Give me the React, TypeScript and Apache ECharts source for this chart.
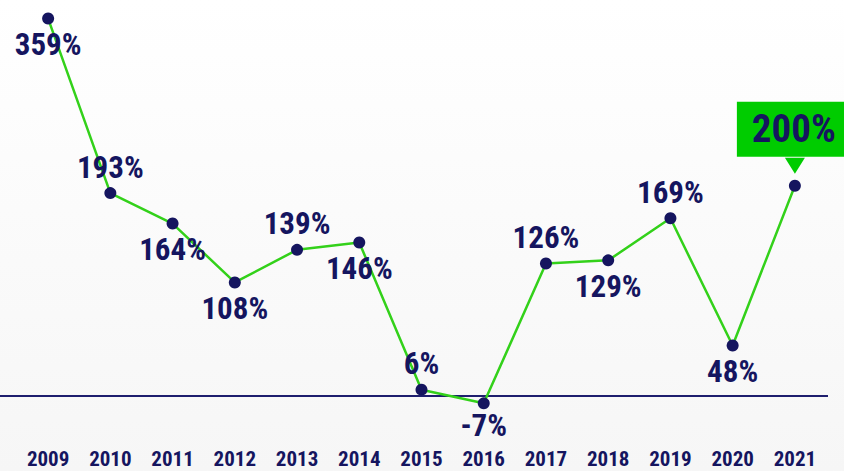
import React, { useEffect, useRef } from "react";
import * as echarts from "echarts";

const years = ["2009", "2010", "2011", "2012", "2013", "2014", "2015", "2016", "2017", "2018", "2019", "2020", "2021"];
const growth = [359, 193, 164, 108, 139, 146, 6, -7, 126, 129, 169, 48, 200];
const labelSide = ["bottom", "top", "bottom", "bottom", "top", "bottom", "top", "bottom", "top", "bottom", "top", "bottom", "top"];

const NAVY = "#15155f";
const GREEN = "#33d11a";
const BOX = "#00cc00";
const FONT = "'Liberation Sans Narrow', 'Roboto Condensed', Roboto, sans-serif";

export default function App() {
  const ref = useRef<HTMLDivElement>(null);
  useEffect(() => {
    if (!ref.current) return;
    const chart = echarts.init(ref.current, undefined, { renderer: "svg" });
    const last = growth.length - 1;
    const data = growth.map((v, i) => {
      if (i === last) {
        return {
          value: v,
          label: {
            show: true,
            position: "top",
            distance: 23,
            offset: [-1, 0],
            backgroundColor: BOX,
            padding: [8, 15, 8, 15],
            fontSize: 39,
            lineHeight: 39,
            color: NAVY,
            fontWeight: "bold",
            fontFamily: FONT,
          },
        };
      }
      return {
        value: v,
        label: { position: labelSide[i], distance: v < 0 ? 2 : 6 },
      };
    });
    chart.setOption({
      animation: false,
      backgroundColor: {
        type: "linear",
        x: 0,
        y: 0,
        x2: 0,
        y2: 1,
        colorStops: [
          { offset: 0, color: "#ffffff" },
          { offset: 1, color: "#f6f6f6" },
        ],
      },
      grid: { left: 17, right: 18, top: 7, bottom: 54, containLabel: false },
      xAxis: {
        type: "category",
        data: years,
        boundaryGap: true,
        axisLine: { show: false },
        axisTick: { show: false },
        axisLabel: {
          interval: 0,
          margin: 31,
          color: NAVY,
          fontSize: 21,
          lineHeight: 21,
          fontWeight: "bold",
          fontFamily: FONT,
        },
      },
      yAxis: {
        type: "value",
        min: -20,
        max: 370,
        show: false,
        splitLine: { show: false },
      },
      series: [
        {
          type: "line",
          data,
          z: 3,
          symbol: "circle",
          symbolSize: 12,
          itemStyle: { color: NAVY },
          lineStyle: { color: GREEN, width: 2.5 },
          label: {
            show: true,
            distance: 6,
            formatter: (p: any) => `${p.value}%`,
            color: NAVY,
            fontSize: 31,
            lineHeight: 28,
            fontWeight: "bold",
            fontFamily: FONT,
          },
          markPoint: {
            symbol: "path://M0,0 L20,0 L10,16 Z",
            symbolSize: [20, 16],
            symbolOffset: [0, -20],
            itemStyle: { color: BOX },
            label: { show: false },
            data: [{ coord: [last, growth[last]] }],
          },
        },
      ],
    });
    const y0 = chart.convertToPixel({ yAxisIndex: 0 }, 0) as number;
    chart.setOption({
      graphic: [
        {
          type: "line",
          z: 1,
          shape: { x1: 0, y1: y0, x2: 828, y2: y0 },
          style: { stroke: "#1e1e6e", lineWidth: 2 },
        },
      ],
    });
    return () => chart.dispose();
  }, []);
  return (
    <div
      ref={ref}
      style={{ position: "fixed", left: 0, top: 0, width: 844, height: 471 }}
    />
  );
}
